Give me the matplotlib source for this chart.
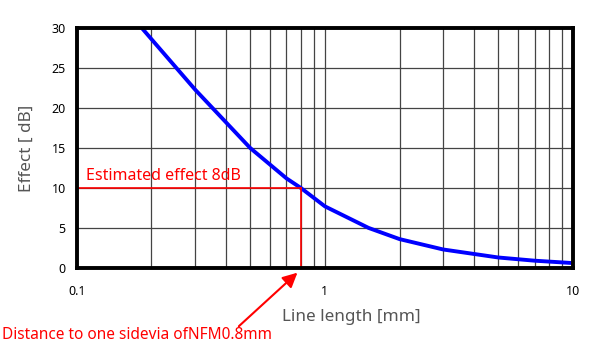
import numpy as np
import matplotlib
matplotlib.use("Agg")
import matplotlib.pyplot as plt

plt.rcParams['font.family'] = ['Noto Sans', 'DejaVu Sans']

# courbe effet / longueur de ligne
longueur = [0.183, 0.3, 0.5, 0.7, 0.8, 1.0, 1.5, 2.0, 3.0, 5.0, 7.0, 10.0]
effet = [30.0, 22.3, 15.0, 11.2, 10.0, 7.7, 5.0, 3.6, 2.3, 1.3, 0.9, 0.6]

# point de lecture
x_lu = 0.8
y_lu = 10.0

fig = plt.figure(figsize=(6, 3.43), dpi=100)
ax = fig.add_axes([0.128, 0.219, 0.827, 0.699])

ax.set_xscale('log')
ax.set_xlim(0.1, 10)
ax.set_ylim(0, 30)

# grille
mineurs = [k * d for d in (0.1, 1) for k in range(2, 10)]
for xv in mineurs:
    ax.axvline(xv, color='#444444', lw=0.9, zorder=1)
ax.axvline(1, color='#444444', lw=0.9, zorder=1)
for yv in [5, 10, 15, 20, 25]:
    ax.axhline(yv, color='#444444', lw=0.9, zorder=1)

ax.plot(longueur, effet, color='#0000ff', lw=2.8, zorder=3, solid_capstyle='butt')

# lignes de lecture
ax.plot([0.1, x_lu], [y_lu, y_lu], color='#ff0000', lw=1.2, zorder=4)
ax.plot([x_lu, x_lu], [0, y_lu], color='#ff0000', lw=1.2, zorder=4)
ax.text(0.109, 10.5, 'Estimated effect 8dB', color='#ff0000', fontsize=11.5,
        ha='left', va='bottom', zorder=5)

ax.annotate('', xy=(0.775, -0.6), xytext=(0.45, -7.3),
            arrowprops=dict(arrowstyle='-|>', color='#ff0000', lw=1.5,
                            mutation_scale=22, shrinkA=0, shrinkB=0),
            annotation_clip=False)
fig.text(0.003, 0.022, 'Distance to one sidevia ofNFM0.8mm', color='#ff0000',
         fontsize=11.1, ha='left', va='center')

for s in ax.spines.values():
    s.set_linewidth(2.8)
    s.set_color('black')
    s.set_zorder(6)

ax.set_xticks([0.1, 1, 10])
ax.set_xticklabels(['0.1', '1', '10'])
ax.set_xticks([], minor=True)
ax.set_yticks([0, 5, 10, 15, 20, 25, 30])
ax.tick_params(length=0, labelsize=9, colors='black')
ax.tick_params(axis='x', pad=12)
ax.tick_params(axis='y', pad=8)

ax.set_xlabel('Line length [mm]', fontsize=12.3, color='#555555')
ax.xaxis.set_label_coords(0.553, -0.17)
ax.set_ylabel('Effect [ dB]', fontsize=12.3, color='#555555')
ax.yaxis.set_label_coords(-0.085, 0.5)

fig.savefig('out.png', dpi=100)
